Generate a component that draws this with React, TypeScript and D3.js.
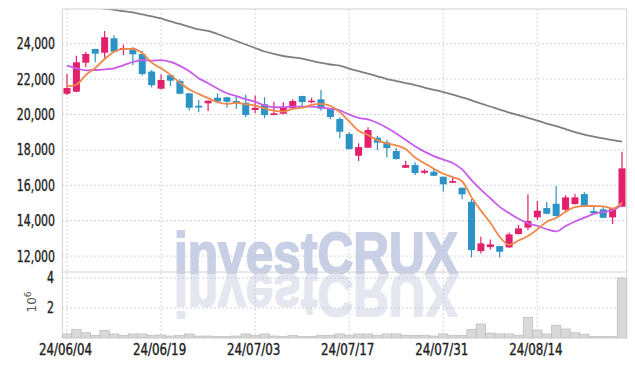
import React from 'react';
import * as d3 from 'd3';

const dates = [
  '24/06/04','24/06/05','24/06/07','24/06/10','24/06/11','24/06/12','24/06/13','24/06/14','24/06/17','24/06/18',
  '24/06/19','24/06/20','24/06/21','24/06/24','24/06/25','24/06/26','24/06/27','24/06/28','24/07/01','24/07/02',
  '24/07/03','24/07/04','24/07/05','24/07/08','24/07/09','24/07/10','24/07/11','24/07/12','24/07/15','24/07/16',
  '24/07/17','24/07/18','24/07/19','24/07/22','24/07/23','24/07/24','24/07/25','24/07/26','24/07/29','24/07/30',
  '24/07/31','24/08/01','24/08/02','24/08/05','24/08/06','24/08/07','24/08/08','24/08/09','24/08/12','24/08/13',
  '24/08/14','24/08/16','24/08/19','24/08/20','24/08/21','24/08/22','24/08/23','24/08/26','24/08/27','24/08/28',
];

const opens = [
  21174,21287,22926,23700,23491,24305,23661,23740,23418,22428,
  21456,22214,21891,21196,20495,20631,20947,20970,20761,20659,
  20252,20574,19969,20043,20348,21043,20721,20857,20348,19743,
  18895,17669,18121,18686,18426,17934,16990,17143,16708,16764,
  16482,16142,15860,15068,12281,12507,12564,12490,13242,13610,
  14186,14712,14955,14616,14938,15504,14542,14638,14186,14786,
];
const highs = [
  22287,23322,23548,23720,24718,24475,23943,23813,23600,22513,
  22259,22287,21988,21220,20817,20800,21196,21000,21060,21117,
  21072,20970,20721,20687,20857,21060,20947,21383,20360,19839,
  19008,18370,19274,18799,18556,18121,17386,17296,16900,16957,
  16500,16448,15880,15221,13090,12943,12580,13338,13751,15487,
  15108,15051,15956,15430,15504,15600,14842,14825,14710,17895,
];
const lows = [
  21100,21250,22666,22950,23209,23500,23361,22796,22200,21535,
  21430,21609,21150,20224,20122,20195,20631,20382,20309,19839,
  20082,19783,19950,20020,20330,20439,20631,20213,19726,18652,
  18020,17369,18100,17991,17578,17450,16970,16578,16634,16520,
  15634,16120,15204,11925,12151,12378,11925,12470,13220,13468,
  14034,14370,14240,14560,14920,14830,14400,14150,13807,14770,
];
const closes = [
  21496,22949,23418,23435,24362,23548,23757,23400,22287,21654,
  21948,21908,21174,20382,20393,20778,20733,20721,20687,19969,
  20382,19969,20065,20405,20761,20704,20778,20325,19856,19025,
  18047,18160,19122,18404,18104,17482,17143,16691,16821,16538,
  16052,16238,15487,12338,12717,12660,12242,13225,13564,13977,
  14560,14390,14260,15317,15317,14842,14413,14164,14695,16956,
];
// volume in millions
const volumes = [
  0.27,0.58,0.35,0.18,0.51,0.27,0.18,0.27,0.27,0.18,
  0.2,0.13,0.18,0.27,0.13,0.13,0.1,0.1,0.13,0.27,
  0.18,0.27,0.13,0.1,0.18,0.1,0.1,0.18,0.18,0.27,
  0.18,0.27,0.27,0.18,0.27,0.27,0.18,0.18,0.18,0.13,
  0.27,0.18,0.18,0.58,0.93,0.33,0.27,0.27,0.18,1.38,
  0.53,0.27,0.85,0.6,0.35,0.25,0.1,0.1,0.1,4.0,
];
// leading moving-average values (depend on data before the window)
const ma5Lead = [21590, 21690, 22231, 22625];
const ma10Lead = [22756, 22610, 22496, 22513, 22553, 22610, 22779, 22965, 23079];
// long moving average (grey)
const maLong = [
  26256,26188,26120,26052,25984,25916,25837,25764,25651,25549,
  25425,25255,25114,24955,24803,24718,24548,24350,24153,23955,
  23757,23559,23418,23305,23231,23152,23028,22920,22824,22756,
  22592,22445,22310,22157,22004,21891,21778,21665,21524,21394,
  21270,21123,20964,20800,20620,20450,20269,20111,19969,19811,
  19658,19489,19347,19178,19008,18867,18754,18647,18556,18466,
];
const priceTicks = [12000, 14000, 16000, 18000, 20000, 22000, 24000];
const volTicks = [2, 4];
const dateTickIdx = [0, 10, 20, 30, 40, 50];

function movingAvg(n: number, lead: number[]) {
  return closes.map((_, i) =>
    i < lead.length ? lead[i] : d3.mean(closes.slice(i - n + 1, i + 1)) as number
  );
}

const W = 635, H = 366;
const L = 62.3, R = 626.7, T = 9, MAINB = 272, VOLB = 338;
const UP = '#e2206b', DOWN = '#2b93c6';
const tickFont = "'DejaVu Sans Condensed', 'DejaVu Sans', sans-serif";

export default function App() {
  const x = d3.scaleBand<string>().domain(dates).range([L, R]).padding(0);
  const cx = (i: number) => (x(dates[i]) as number) + x.bandwidth() / 2;
  const y = d3.scaleLinear().domain([11100, 25960]).range([MAINB, T]);
  const yv = d3.scaleLinear().domain([0, 4.4]).range([VOLB, MAINB]);
  const ma5 = movingAvg(5, ma5Lead);
  const ma10 = movingAvg(10, ma10Lead);
  const line = (vals: number[]) =>
    d3.line<number>().x((_, i) => cx(i)).y((v) => y(v)).curve(d3.curveMonotoneX)(vals) as string;
  const bw = 7;
  const grid = '#c2c7d6';
  const wmBase = 273.5;

  return (
    <svg width={W} height={H} style={{ position: 'absolute', left: 0, top: 0, background: '#fff' }}>
      <defs>
        <clipPath id="mainClip"><rect x={L} y={T} width={R - L} height={MAINB - T} /></clipPath>
      </defs>
      {/* watermark */}
      <g fontFamily="'Liberation Sans', Arial, sans-serif" fontWeight="bold" fontSize={50} strokeLinejoin="round">
        <g transform={`translate(174, ${wmBase}) scale(1, 1.17)`}>
          <text x={0} y={0} fill="#c9d0e6" stroke="#c9d0e6" strokeWidth={1.6} textLength={284} lengthAdjust="spacingAndGlyphs">investCRUX</text>
        </g>
        <g transform={`translate(174, ${wmBase + 1.5}) scale(1, -1.17)`}>
          <text x={0} y={0} fill="#e5e7f0" stroke="#e5e7f0" strokeWidth={1.6} textLength={284} lengthAdjust="spacingAndGlyphs">investCRUX</text>
        </g>
      </g>
      {/* grid */}
      <g stroke={grid} strokeWidth={1} strokeDasharray="1.5,2.5">
        {priceTicks.map((t) => (
          <line key={t} x1={L} x2={R} y1={y(t)} y2={y(t)} />
        ))}
        {volTicks.map((t) => (
          <line key={'v' + t} x1={L} x2={R} y1={yv(t)} y2={yv(t)} />
        ))}
        {dateTickIdx.map((i) => (
          <line key={'d' + i} x1={cx(i)} x2={cx(i)} y1={T} y2={VOLB} />
        ))}
      </g>
      {/* volume */}
      <g>
        {volumes.map((v, i) => (
          <rect key={i} x={x(dates[i]) as number} width={x.bandwidth()} y={yv(v)} height={VOLB - yv(v)}
            fill="#d9d9d9" stroke="#bfbfbf" strokeWidth={0.8} />
        ))}
      </g>
      {/* candles */}
      <g clipPath="url(#mainClip)">
        {closes.map((c, i) => {
          const o = opens[i];
          const col = c >= o ? UP : DOWN;
          const top = y(Math.max(o, c));
          const h = Math.max(1.5, Math.abs(y(o) - y(c)));
          return (
            <g key={i}>
              <line x1={cx(i)} x2={cx(i)} y1={y(highs[i])} y2={y(lows[i])} stroke={col} strokeWidth={1.2} />
              <rect x={cx(i) - bw / 2} width={bw} y={top} height={h} fill={col} />
            </g>
          );
        })}
        <path d={line(maLong)} fill="none" stroke="#7f7f7f" strokeWidth={1.8} />
        <path d={line(ma10)} fill="none" stroke="#c85ce9" strokeWidth={1.8} />
        <path d={line(ma5)} fill="none" stroke="#f0884a" strokeWidth={1.8} />
      </g>
      {/* frame */}
      <g stroke="#d0d0d0" strokeWidth={1} fill="none">
        <line x1={L} x2={R} y1={T} y2={T} />
        <line x1={L} x2={R} y1={MAINB} y2={MAINB} />
        <line x1={L} x2={R} y1={VOLB - 0.7} y2={VOLB - 0.7} />
        <line x1={L} x2={L} y1={T} y2={VOLB} />
        <line x1={R} x2={R} y1={T} y2={VOLB} />
      </g>
      {/* y tick labels */}
      <g fontFamily={tickFont} fontSize={15} fill="#222" stroke="#222" strokeWidth={0.35} textAnchor="end">
        {priceTicks.map((t) => (
          <text key={t} transform={`translate(55, ${y(t)}) scale(0.81, 1)`} dominantBaseline="central">{d3.format(',')(t)}</text>
        ))}
        {volTicks.map((t) => (
          <text key={'v' + t} transform={`translate(54, ${yv(t)}) scale(0.81, 1)`} dominantBaseline="central">{t}</text>
        ))}
      </g>
      <text transform="translate(36,302) rotate(-90)" fontFamily="'DejaVu Sans', sans-serif" fontSize={12} fill="#555" textAnchor="middle">
        10<tspan dy={-5} fontSize={9}>6</tspan>
      </text>
      {/* x tick labels */}
      <g fontFamily={tickFont} fontSize={15} fill="#222" stroke="#222" strokeWidth={0.35} textAnchor="middle">
        {dateTickIdx.map((i) => (
          <text key={i} transform={`translate(${cx(i) - 1.5}, 355) scale(0.88, 1)`}>{dates[i]}</text>
        ))}
      </g>
    </svg>
  );
}
